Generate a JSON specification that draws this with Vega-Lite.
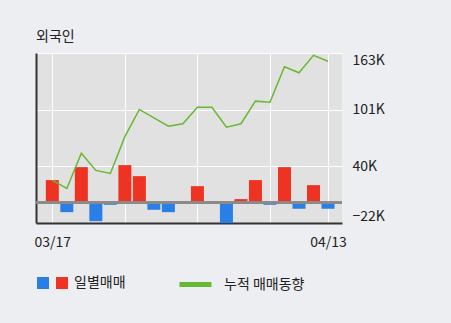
{
  "$schema": "https://vega.github.io/schema/vega-lite/v6.json",
  "width": 306,
  "height": 170,
  "autosize": {"type": "none"},
  "padding": {"left": 36, "top": 53, "right": 109, "bottom": 100},
  "background": "#eceef1",
  "title": {"text": "외국인", "anchor": "start", "fontSize": 14, "fontWeight": "normal", "font": "Noto Sans CJK KR", "color": "#222222", "offset": 8, "dx": 2},
  "config": {"view": {"fill": "#e1e1e1", "stroke": null}, "font": "Noto Sans CJK KR"},
  "data": {"values": [
    {"idx": 0, "date": "03/17", "value": 24.7, "cum": 24.3, "type": "순매수"},
    {"idx": 1, "date": "03/18", "value": -10.2, "cum": 15.6, "type": "순매도"},
    {"idx": 2, "date": "03/19", "value": 38.8, "cum": 54, "type": "순매수"},
    {"idx": 3, "date": "03/20", "value": -20, "cum": 35.2, "type": "순매도"},
    {"idx": 4, "date": "03/23", "value": -2.2, "cum": 31.9, "type": "순매도"},
    {"idx": 5, "date": "03/24", "value": 41, "cum": 72, "type": "순매수"},
    {"idx": 6, "date": "03/25", "value": 29, "cum": 101.6, "type": "순매수"},
    {"idx": 7, "date": "03/26", "value": -7.6, "cum": 92.5, "type": "순매도"},
    {"idx": 8, "date": "03/27", "value": -10.2, "cum": 83.4, "type": "순매도"},
    {"idx": 9, "date": "03/30", "value": 1.8, "cum": 86, "type": "순매수"},
    {"idx": 10, "date": "03/31", "value": 18.1, "cum": 104, "type": "순매수"},
    {"idx": 11, "date": "04/01", "value": 0, "cum": 104, "type": "순매수"},
    {"idx": 12, "date": "04/02", "value": -22.1, "cum": 82.3, "type": "순매도"},
    {"idx": 13, "date": "04/03", "value": 4, "cum": 86, "type": "순매수"},
    {"idx": 14, "date": "04/06", "value": 24.7, "cum": 110.6, "type": "순매수"},
    {"idx": 15, "date": "04/07", "value": -2.2, "cum": 109.5, "type": "순매도"},
    {"idx": 16, "date": "04/08", "value": 38.8, "cum": 148, "type": "순매수"},
    {"idx": 17, "date": "04/09", "value": -6.5, "cum": 141.5, "type": "순매도"},
    {"idx": 18, "date": "04/10", "value": 19.2, "cum": 160.5, "type": "순매수"},
    {"idx": 19, "date": "04/13", "value": -6.5, "cum": 154, "type": "순매도"}
  ]},
  "layer": [
    {
      "mark": {"type": "bar", "size": 13},
      "encoding": {
        "x": {"field": "idx", "type": "quantitative",
          "scale": {"domain": [-0.78, 19.62], "nice": false, "zero": false},
          "axis": {"values": [0, 5, 10, 15, 19], "title": null, "ticks": false,
            "labelExpr": "datum.value == 0 ? '03/17' : (datum.value == 19 ? '04/13' : '')",
            "labelFlush": false, "labelFontSize": 14, "labelColor": "#222222", "labelPadding": 12, "labelDx": 3,
            "domainColor": "#333333", "domainWidth": 2, "grid": true, "gridColor": "#ffffff", "gridWidth": 1, "gridOpacity": 1}},
        "y": {"field": "value", "type": "quantitative",
          "scale": {"domain": [-22, 163], "nice": false, "zero": false},
          "axis": {"orient": "left", "title": null, "labels": false, "ticks": false, "grid": false,
            "domainColor": "#333333", "domainWidth": 2}},
        "y2": {"datum": 0},
        "fill": {"field": "type", "type": "nominal",
          "scale": {"domain": ["순매도", "순매수"], "range": ["#2a7fe6", "#ef3322"]},
          "legend": {"title": null, "orient": "none", "legendX": 0, "legendY": 223, "direction": "horizontal",
            "symbolType": "square", "symbolSize": 144, "symbolStrokeWidth": 0,
            "labelExpr": "datum.value == '순매수' ? '일별매매' : ''",
            "labelFontSize": 14, "labelColor": "#222222", "labelOffset": 5, "columnPadding": -8}}
      }
    },
    {
      "mark": {"type": "rule", "color": "#8a8a8a", "strokeWidth": 2},
      "encoding": {
        "y": {"datum": 0, "type": "quantitative", "axis": null}
      }
    },
    {
      "mark": {"type": "line", "strokeWidth": 1.5},
      "encoding": {
        "x": {"field": "idx", "type": "quantitative"},
        "y": {"field": "cum", "type": "quantitative",
          "axis": {"orient": "right", "title": null, "values": [-22, 40, 101, 163],
            "labelExpr": "format(datum.value, 'd') + 'K'", "labelFlush": true,
            "ticks": false, "domain": false, "labelPadding": 10, "labelFontSize": 14, "labelColor": "#222222",
            "grid": true, "gridColor": "#ffffff", "gridWidth": 1, "gridOpacity": 1}},
        "stroke": {"datum": "누적 매매동향",
          "scale": {"range": ["#67b832"]},
          "legend": {"title": null, "orient": "none", "legendX": 141, "legendY": 213,
            "symbolType": "stroke", "symbolSize": 1024, "symbolStrokeWidth": 5,
            "labelFontSize": 14, "labelColor": "#222222", "labelOffset": 10}}
      }
    }
  ],
  "resolve": {"axis": {"y": "independent"}}
}
